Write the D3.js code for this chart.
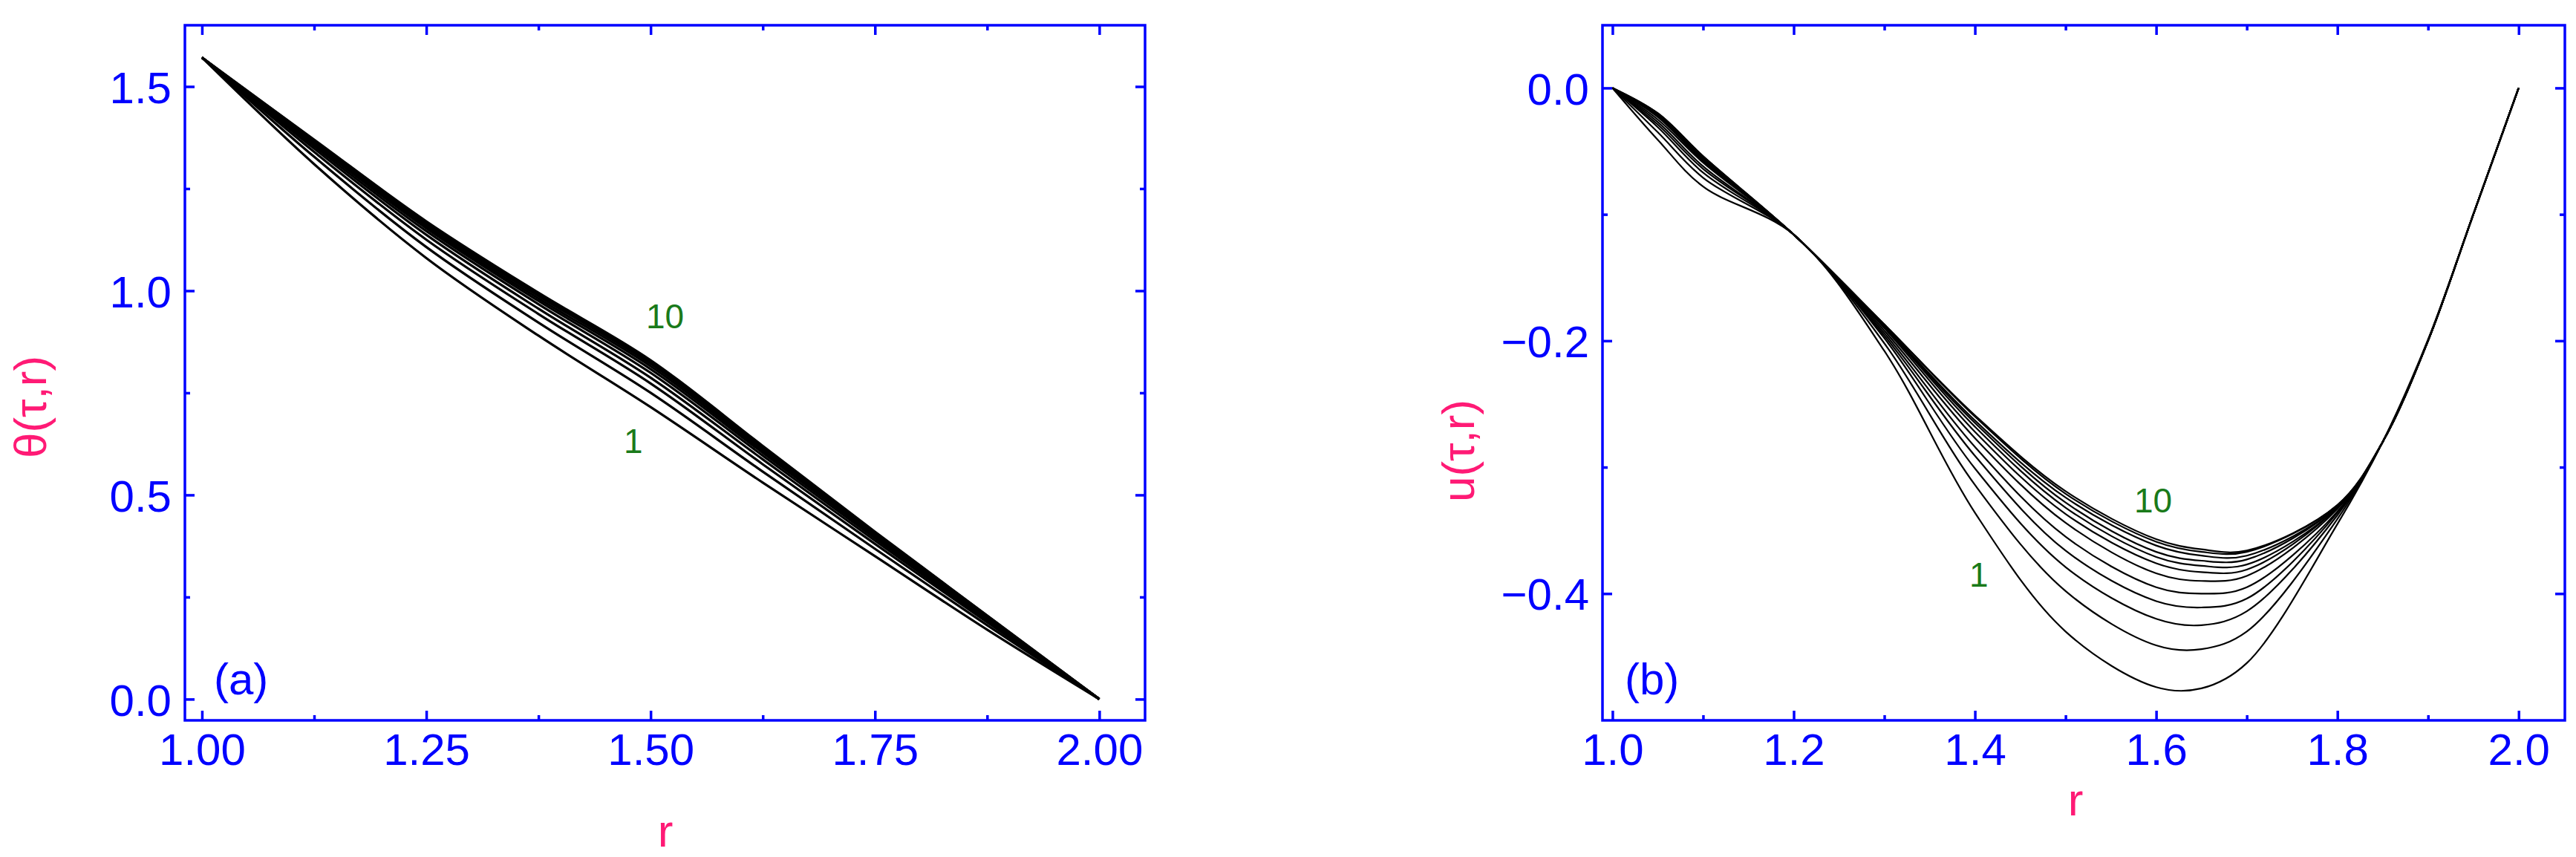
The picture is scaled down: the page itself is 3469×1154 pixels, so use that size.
<!DOCTYPE html>
<html><head><meta charset="utf-8">
<script src="https://cdn.jsdelivr.net/npm/d3@7"></script>
<style>body{margin:0;background:#fff}text{font-family:"Liberation Sans Narrow","Arial Narrow",sans-serif}</style>
</head><body>
<svg id="c" width="3469" height="1154"></svg>
<script>
// ---- data ----
const rA = [1.0,1.125,1.25,1.375,1.5,1.625,1.75,1.875,2.0];
const thetaCurves = [
 [1.571,1.310,1.080,0.890,0.715,0.530,0.350,0.170,0],
 [1.571,1.328,1.107,0.922,0.750,0.557,0.368,0.181,0],
 [1.571,1.340,1.125,0.943,0.773,0.575,0.380,0.188,0],
 [1.571,1.348,1.137,0.956,0.787,0.587,0.388,0.192,0],
 [1.571,1.354,1.146,0.967,0.799,0.596,0.394,0.196,0],
 [1.571,1.359,1.153,0.975,0.808,0.603,0.399,0.198,0],
 [1.571,1.362,1.158,0.981,0.815,0.608,0.402,0.200,0],
 [1.571,1.365,1.163,0.987,0.821,0.613,0.405,0.202,0],
 [1.571,1.368,1.166,0.991,0.825,0.616,0.408,0.204,0],
 [1.571,1.370,1.170,0.995,0.830,0.620,0.410,0.205,0]
];
const rB = [1.0,1.05,1.1,1.2,1.3,1.4,1.5,1.6,1.65,1.7,1.8,1.85,1.9,1.95,2.0];
const uCurves = [
 [0,-0.041,-0.078,-0.116,-0.208,-0.336,-0.430,-0.474,-0.475,-0.455,-0.345,-0.28,-0.199,-0.10,0],
 [0,-0.035,-0.071,-0.116,-0.202,-0.314,-0.398,-0.441,-0.444,-0.430,-0.341,-0.28,-0.200,-0.10,0],
 [0,-0.031,-0.067,-0.116,-0.198,-0.301,-0.379,-0.420,-0.425,-0.414,-0.338,-0.28,-0.200,-0.10,0],
 [0,-0.029,-0.064,-0.116,-0.196,-0.291,-0.366,-0.406,-0.411,-0.404,-0.336,-0.28,-0.200,-0.10,0],
 [0,-0.027,-0.062,-0.116,-0.194,-0.284,-0.355,-0.395,-0.400,-0.395,-0.335,-0.28,-0.200,-0.10,0],
 [0,-0.025,-0.059,-0.116,-0.192,-0.277,-0.344,-0.384,-0.390,-0.386,-0.333,-0.28,-0.200,-0.10,0],
 [0,-0.023,-0.058,-0.116,-0.190,-0.272,-0.337,-0.376,-0.383,-0.381,-0.332,-0.28,-0.200,-0.10,0],
 [0,-0.022,-0.057,-0.116,-0.189,-0.268,-0.332,-0.371,-0.378,-0.377,-0.332,-0.28,-0.200,-0.10,0],
 [0,-0.022,-0.056,-0.116,-0.189,-0.265,-0.328,-0.367,-0.374,-0.373,-0.331,-0.28,-0.200,-0.10,0],
 [0,-0.021,-0.055,-0.116,-0.188,-0.263,-0.324,-0.362,-0.370,-0.370,-0.331,-0.28,-0.200,-0.10,0],
 [0,-0.020,-0.054,-0.116,-0.187,-0.260,-0.321,-0.359,-0.367,-0.367,-0.330,-0.28,-0.200,-0.10,0],
 [0,-0.020,-0.054,-0.116,-0.187,-0.259,-0.319,-0.357,-0.365,-0.366,-0.330,-0.28,-0.200,-0.10,0]
];
const ticksAx = [1.00,1.25,1.50,1.75,2.00], minorAx=[1.125,1.375,1.625,1.875];
const ticksAy = [0.0,0.5,1.0,1.5], minorAy=[0.25,0.75,1.25];
const ticksBx = [1.0,1.2,1.4,1.6,1.8,2.0], minorBx=[1.1,1.3,1.5,1.7,1.9];
const ticksBy = [0.0,-0.2,-0.4], minorBy=[-0.1,-0.3];

const BLUE="#0000ff", PINK="#ff1a75", GREEN="#1a7a1a";
const svg=d3.select("#c");

function panel(o){
  const g=svg.append("g");
  const x=d3.scaleLinear().domain(o.xd).range([o.L,o.R]);
  const y=d3.scaleLinear().domain(o.yd).range([o.B,o.T]);
  const line=d3.line().x((d,i)=>x(o.rs[i])).y(d=>y(d)).curve(d3.curveCatmullRom);
  g.selectAll("path.c").data(o.curves).join("path").attr("class","c")
    .attr("d",line).attr("fill","none").attr("stroke","#000").attr("stroke-width",o.sw);
  g.append("rect").attr("x",o.L).attr("y",o.T).attr("width",o.R-o.L).attr("height",o.B-o.T)
    .attr("fill","none").attr("stroke",BLUE).attr("stroke-width",3.5);
  const mk=(axis,vals,len,lbl,fmt,tr)=>{
    const a=g.append("g").attr("transform",tr).call(axis.tickValues(vals).tickSize(len).tickSizeOuter(0).tickFormat(lbl?d3.format(fmt):""));
    a.select(".domain").remove();
    a.selectAll("line").attr("stroke",BLUE).attr("stroke-width",3.5);
    a.selectAll("text").attr("fill",BLUE).attr("font-size",60);
    return a;
  };
  const ax=mk(d3.axisBottom(x),o.xt,-13,true,o.xf,`translate(0,${o.B})`);
  ax.selectAll("text").attr("dy",0).attr("y",60);
  mk(d3.axisBottom(x),o.xm,-7,false,"",`translate(0,${o.B})`);
  mk(d3.axisTop(x),o.xt,-13,false,"",`translate(0,${o.T})`);
  mk(d3.axisTop(x),o.xm,-7,false,"",`translate(0,${o.T})`);
  const ay=mk(d3.axisLeft(y),o.yt,-13,true,o.yf,`translate(${o.L},0)`);
  ay.selectAll("text").attr("x",-18).attr("dy","0.36em");
  mk(d3.axisLeft(y),o.ym,-7,false,"",`translate(${o.L},0)`);
  mk(d3.axisRight(y),o.yt,-13,false,"",`translate(${o.R},0)`);
  mk(d3.axisRight(y),o.ym,-7,false,"",`translate(${o.R},0)`);
  g.append("text").attr("x",o.xtx).attr("y",o.xty).attr("text-anchor","middle").attr("fill",PINK).attr("font-size",62).text("r");
  g.append("text").attr("transform",`translate(${o.ytx},${o.yty}) rotate(-90)`).attr("text-anchor","middle").attr("fill",PINK).attr("font-size",62).text(o.ylab);
  g.append("text").attr("x",o.tag[0]).attr("y",o.tag[1]).attr("fill",BLUE).attr("font-size",60).text(o.tagT);
  g.append("text").attr("x",o.l10[0]).attr("y",o.l10[1]).attr("fill",GREEN).attr("font-size",46).text("10");
  g.append("text").attr("x",o.l1[0]).attr("y",o.l1[1]).attr("fill",GREEN).attr("font-size",46).text("1");
}
panel({L:249,R:1542,T:34,B:970,xd:[0.981,2.051],yd:[-0.052,1.65],rs:rA,curves:thetaCurves,sw:3.2,
  xt:ticksAx,xm:minorAx,yt:ticksAy,ym:minorAy,xf:".2f",yf:".1f",
  xtx:896,xty:1140,ytx:62,yty:548,ylab:"θ(τ,r)",tag:[288,935],tagT:"(a)",l10:[870,442],l1:[840,610]});
panel({L:2158,R:3454,T:34,B:970,xd:[0.989,2.051],yd:[-0.5003,0.0496],rs:rB,curves:uCurves,sw:2.2,
  xt:ticksBx,xm:minorBx,yt:ticksBy,ym:minorBy,xf:".1f",yf:".1f",
  xtx:2795,xty:1098,ytx:1985,yty:607,ylab:"u(τ,r)",tag:[2188,935],tagT:"(b)",l10:[2874,690],l1:[2652,790]});
</script></body></html>
